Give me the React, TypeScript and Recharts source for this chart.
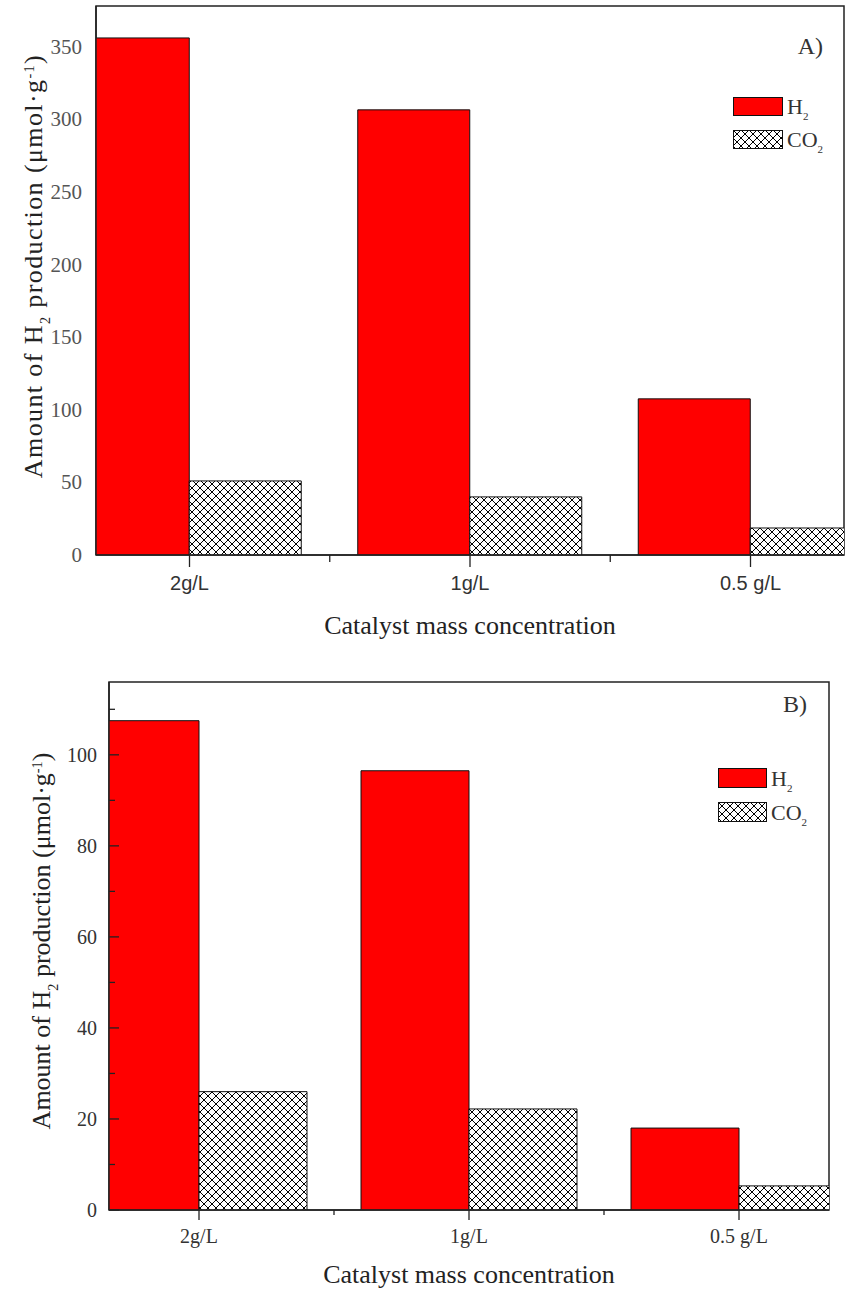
import React from 'react';
import { BarChart, Bar, XAxis, YAxis, ReferenceArea, Legend } from 'recharts';

// catalyst loadings on the category axis
const categories = ['2g/L', '1g/L', '0.5 g/L'];
const categoryPos = [0, 1, 2];
// major + minor tick positions along x (minor ones sit between groups)
const xTickPositions = [0, 0.5, 1, 1.5, 2];

// panel A
const h2A = [356, 306.5, 107.5];
const co2A = [51, 40, 18.6];
const yTicksA = [0, 50, 100, 150, 200, 250, 300, 350];

// panel B
const h2B = [107.5, 96.5, 18];
const co2B = [26, 22.2, 5.3];
const yTicksB = [0, 10, 20, 30, 40, 50, 60, 70, 80, 90, 100, 110];

const SERIF = '"Liberation Serif", "Times New Roman", serif';
const SANS = '"Liberation Sans", Arial, sans-serif';
const X_DOMAIN: [number, number] = [-1 / 3, 7 / 3];

function HatchDefs() {
  return (
    <svg width={0} height={0} style={{ position: 'absolute' }}>
      <defs>
        <pattern id="xhatch" patternUnits="userSpaceOnUse" width={8} height={8}>
          <rect width={8} height={8} fill="#fff" />
          <path d="M0,0 L8,8 M8,0 L0,8" stroke="#000" strokeWidth={1} />
        </pattern>
      </defs>
    </svg>
  );
}

function Sub({ children }: { children: React.ReactNode }) {
  return <tspan baselineShift="sub" fontSize="0.55em">{children}</tspan>;
}

function LegendBox({ cfg }: any) {
  const rows = [
    { fill: '#ff0000', label: 'H', sub: '2' },
    { fill: 'url(#xhatch)', label: 'CO', sub: '2' },
  ];
  return (
    <svg width={110} height={60} style={{ overflow: 'visible' }}>
      {rows.map((r, i) => (
        <g key={r.label} transform={`translate(0, ${i * cfg.legendRowGap})`}>
          <rect x={0.5} y={0.5} width={cfg.legendBoxW} height={cfg.legendBoxH} fill={r.fill} stroke="#111" strokeWidth={1} />
          <text x={cfg.legendBoxW + 5} y={cfg.legendBoxH - 1} fontFamily={SERIF} fontSize={22} fill="#333">
            {r.label}
            <tspan fontSize={11} dy={6}>{r.sub}</tspan>
          </text>
        </g>
      ))}
    </svg>
  );
}

function Panel({ cfg, h2, co2, yTicks, yMax, yLabelEvery }: any) {
  const data = categoryPos.map((p, i) => ({ pos: p, name: categories[i], h2: h2[i], co2: co2[i] }));

  const xTick = (props: any) => {
    const { x, y, payload } = props;
    const v = payload.value;
    const major = Number.isInteger(v);
    return (
      <g>
        <line x1={x} x2={x} y1={y} y2={y + (major ? cfg.xMajorLen : cfg.xMinorLen)} stroke="#222" strokeWidth={1.3} />
        {major && (
          <text x={x} y={y + cfg.xLabelDy} textAnchor="middle" fontFamily={cfg.xTickFont} fontSize={cfg.xTickSize} fill="#333">
            {categories[v]}
          </text>
        )}
      </g>
    );
  };

  const yTick = (props: any) => {
    const { x, y, payload } = props;
    const v = payload.value;
    const major = v % yLabelEvery === 0;
    const len = major ? cfg.yMajorLen : cfg.yMinorLen;
    return (
      <g>
        {len > 0 && <line x1={x} x2={x + len} y1={y} y2={y} stroke="#222" strokeWidth={1.3} />}
        {major && (
          <text x={x - cfg.yLabelGap} y={y} textAnchor="end" dominantBaseline="central" fontFamily={SERIF} fontSize={cfg.yTickSize} fill={cfg.yTickColor}>
            {v}
          </text>
        )}
      </g>
    );
  };

  return (
    <div style={{ position: 'absolute', left: 0, top: cfg.top, width: 861, height: cfg.height }}>
      <BarChart
        width={861}
        height={cfg.height}
        data={data}
        margin={{ top: cfg.mTop, right: cfg.mRight, bottom: 0, left: 0 }}
        barGap={0}
      >
        <XAxis
          dataKey="pos"
          type="number"
          domain={X_DOMAIN}
          allowDataOverflow
          ticks={xTickPositions}
          interval={0}
          height={cfg.xAxisH}
          tickSize={0}
          tickMargin={0}
          tickLine={false}
          axisLine={{ stroke: '#222', strokeWidth: 1.5 }}
          tick={xTick}
          label={() => (
            <text x={cfg.xTitleX} y={cfg.xTitleY} textAnchor="middle" fontFamily={SERIF} fontSize={26} fill="#222">
              Catalyst mass concentration
            </text>
          )}
        />
        <YAxis
          type="number"
          domain={[0, yMax]}
          allowDataOverflow
          ticks={yTicks}
          interval={0}
          width={cfg.yAxisW}
          tickSize={0}
          tickMargin={0}
          tickLine={false}
          axisLine={{ stroke: '#222', strokeWidth: 1.5 }}
          tick={yTick}
          label={() => (
            <text
              x={cfg.yTitleX}
              y={cfg.yTitleY}
              textAnchor="middle"
              transform={`rotate(-90, ${cfg.yTitleX}, ${cfg.yTitleY})`}
              fontFamily={SERIF}
              fontSize={cfg.yTitleSize}
              letterSpacing={cfg.yTitleSpacing}
              fill="#222"
            >
              Amount of H<Sub>2</Sub> production (μmol·g<tspan baselineShift="super" fontSize="0.55em">-1</tspan>)
            </text>
          )}
        />
        <ReferenceArea x1={X_DOMAIN[0]} x2={X_DOMAIN[1]} y1={0} y2={yMax} fill="none" stroke="#222" strokeWidth={1.5} ifOverflow="visible" />
        <Bar dataKey="h2" name="H2" fill="#ff0000" stroke="#111" strokeWidth={1} barSize={cfg.barSize} isAnimationActive={false} />
        <Bar dataKey="co2" name="CO2" fill="url(#xhatch)" stroke="#111" strokeWidth={1} barSize={cfg.barSize} isAnimationActive={false} />
        <Legend
          layout="vertical"
          align="center"
          verticalAlign="middle"
          wrapperStyle={{ left: cfg.legendX, top: cfg.legendY, width: 110 }}
          content={() => <LegendBox cfg={cfg} />}
        />
      </BarChart>
      <div
        style={{
          position: 'absolute',
          left: cfg.tagX - 60,
          top: cfg.tagY,
          width: 60,
          textAlign: 'right',
          fontFamily: SERIF,
          fontSize: 24,
          color: '#333',
          lineHeight: 1,
        }}
      >
        {cfg.tag}
      </div>
    </div>
  );
}

const cfgA = {
  top: 0, height: 640, mTop: 6, mRight: 17, yAxisW: 96, xAxisH: 85,
  barSize: 112, xMajorLen: 12, xMinorLen: 7, xLabelDy: 35, xTickFont: SANS, xTickSize: 20,
  yMajorLen: 0, yMinorLen: 0, yLabelGap: 14, yTickSize: 21, yTickColor: '#555',
  xTitleX: 470, xTitleY: 634, yTitleX: 42, yTitleY: 266, yTitleSize: 26, yTitleSpacing: 1.4,
  legendX: 733, legendY: 97, legendBoxW: 49, legendBoxH: 18, legendRowGap: 33,
  tag: 'A)', tagX: 823, tagY: 34,
};

const cfgB = {
  top: 640, height: 656, mTop: 42, mRight: 32, yAxisW: 109, xAxisH: 86,
  barSize: 108, xMajorLen: 10, xMinorLen: 5, xLabelDy: 33, xTickFont: SERIF, xTickSize: 20,
  yMajorLen: 10, yMinorLen: 6, yLabelGap: 12, yTickSize: 20, yTickColor: '#333',
  xTitleX: 469, xTitleY: 643, yTitleX: 50, yTitleY: 301, yTitleSize: 26, yTitleSpacing: 0,
  legendX: 718, legendY: 128, legendBoxW: 48, legendBoxH: 19, legendRowGap: 34,
  tag: 'B)', tagX: 807, tagY: 52,
};

export default function App() {
  return (
    <div style={{ position: 'absolute', left: 0, top: 0, width: 861, height: 1296, background: '#fff' }}>
      <HatchDefs />
      <Panel cfg={cfgA} h2={h2A} co2={co2A} yTicks={yTicksA} yMax={378} yLabelEvery={50} />
      <Panel cfg={cfgB} h2={h2B} co2={co2B} yTicks={yTicksB} yMax={116} yLabelEvery={20} />
    </div>
  );
}
